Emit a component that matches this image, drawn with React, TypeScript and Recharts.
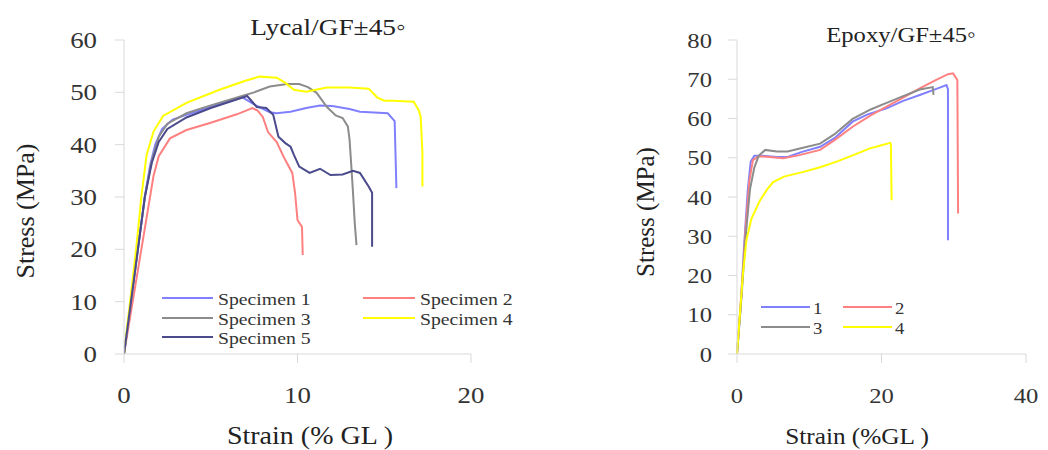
import React from 'react';
import { LineChart, Line, XAxis, YAxis } from 'recharts';

// ---------- Lycal/GF ±45° : [strain %, stress MPa] ----------
const lycalSpecimen1 = [[0,0],[0.4,10],[0.8,20],[1.2,30],[1.5,36],[1.8,40],[2.2,43],[2.8,44.8],[3.6,45.7],[5,47.2],[6.8,49.1],[7.6,47.5],[8.4,46.2],[8.8,46],[9.6,46.3],[10.5,47],[11.3,47.5],[12,47.4],[13,46.8],[13.6,46.3],[15.2,46],[15.6,44.5],[15.7,31.7]];
const lycalSpecimen2 = [[0,0],[0.5,10],[1.0,20],[1.4,28],[1.7,34],[2.0,37.8],[2.65,41.2],[3.6,42.8],[5,44.2],[6.5,45.8],[7.4,47],[7.7,46.5],[8.0,45.3],[8.3,42.4],[8.8,40.5],[9.2,37.7],[9.7,34.6],[9.86,30.8],[10.0,25.6],[10.26,24.3],[10.3,18.9]];
const lycalSpecimen3 = [[0,0],[0.4,10],[0.8,20],[1.2,30],[1.6,37],[2.0,41.5],[2.5,44],[3.6,46],[5,47.5],[6.8,49.3],[7.5,50],[8.4,51.1],[9.4,51.6],[10.1,51.6],[10.6,51],[11.1,49.9],[11.7,47.2],[12.2,45.6],[12.6,45.1],[12.9,43.5],[13.0,41],[13.1,36],[13.2,30.8],[13.3,25],[13.4,20.8]];
const lycalSpecimen4 = [[0,0],[0.35,10],[0.7,20],[1.0,30],[1.3,38],[1.7,42.5],[2.25,45.5],[3.6,48],[5.5,50.5],[7.0,52.2],[7.8,53],[8.8,52.8],[9.3,51.8],[9.8,50.5],[10.5,50.1],[11.2,50.6],[11.7,50.9],[13.0,50.9],[14.1,50.7],[14.6,49],[15.0,48.4],[15.5,48.4],[16.7,48.2],[17.0,46.5],[17.1,45.3],[17.2,38.4],[17.2,32]];
const lycalSpecimen5 = [[0,0],[0.4,10],[0.8,20],[1.2,30],[1.6,36.5],[2.0,40.5],[2.5,43],[3.6,45.2],[5,47],[7.1,49.3],[7.65,47.2],[8.2,47],[8.6,45.7],[8.9,41.5],[9.3,40.3],[9.6,39.6],[9.8,38],[10.1,35.8],[10.7,34.6],[11.3,35.4],[11.9,34.2],[12.6,34.3],[13.2,35],[13.6,34.6],[14.1,32],[14.3,30.8],[14.3,20.5]];

// ---------- Epoxy/GF ±45° ----------
const epoxy1 = [[0,0],[0.5,12],[1.0,28],[1.5,42],[1.9,49],[2.4,50.5],[3.5,50.5],[5.5,50.2],[7,50.2],[9,51.5],[11.5,52.8],[13.5,55],[16,59.2],[18,61],[20.7,62.6],[23,64.5],[25.3,66],[27.5,67.5],[29,68.5],[29.2,67.5],[29.2,29]];
const epoxy2 = [[0,0],[0.6,15],[1.2,32],[1.7,44],[2.2,49.4],[3.0,50.4],[4.5,50.2],[6.4,49.9],[8.5,50.6],[11.5,52],[13.5,54.5],[16,57.9],[18.5,60.8],[20.7,63],[23,65.3],[25.3,67.7],[27.5,69.8],[29.2,71.3],[29.9,71.5],[30.5,69.8],[30.6,35.8]];
const epoxy3 = [[0,0],[0.6,14],[1.2,30],[1.8,42],[2.4,47.5],[3.0,50.5],[3.9,52],[5.5,51.6],[7,51.6],[9,52.5],[11.5,53.6],[13.5,56],[16,59.9],[18.5,62.3],[20.7,64],[23,65.7],[25.3,67.4],[27.1,68],[27.2,66]];
const epoxy4 = [[0,0],[0.4,10],[0.8,20],[1.3,29],[2.0,34.5],[3.2,39.2],[4.2,42],[5.0,43.8],[6.5,45.2],[9.2,46.4],[11.5,47.6],[13.8,49],[16,50.6],[18.4,52.4],[20,53.2],[21.2,53.8],[21.3,53.5],[21.4,39.2]];

const lycalNames = ['Specimen 1', 'Specimen 2', 'Specimen 3', 'Specimen 4', 'Specimen 5'];
const epoxyNames = ['1', '2', '3', '4'];
const lycalXTicks = [0, 10, 20];
const lycalYTicks = [0, 10, 20, 30, 40, 50, 60];
const epoxyXTicks = [0, 20, 40];
const epoxyYTicks = [0, 10, 20, 30, 40, 50, 60, 70, 80];

const COLORS = ['#8080ff', '#ff8080', '#8c8c8c', '#ffff00', '#4a4a8c'];
const FONT = "'Liberation Serif', 'Times New Roman', serif";
const AXIS = '#d9d9d9';

const toPts = (arr: number[][]) => arr.map(([x, y]) => ({ x, y }));
const lycalSeries = [lycalSpecimen1, lycalSpecimen2, lycalSpecimen3, lycalSpecimen4, lycalSpecimen5].map(toPts);
const epoxySeries = [epoxy1, epoxy2, epoxy3, epoxy4].map(toPts);

const mkTick = (size: number, sx: number, anchor: 'middle' | 'end') => (props: any) => {
  const { x, y, payload } = props;
  return (
    <text transform={`translate(${x},${y}) scale(${sx},1)`} textAnchor={anchor} dominantBaseline="central"
      fontFamily={FONT} fontSize={size} fill="#333">{payload.value}</text>
  );
};

const SText = ({ x, y, size, sx = 1, anchor = 'middle', rotate = 0, children, color = '#222' }: any) => (
  <text transform={`translate(${x},${y}) rotate(${rotate}) scale(${sx},1)`} textAnchor={anchor}
    dominantBaseline="central" fontFamily={FONT} fontSize={size} fill={color}>{children}</text>
);

export default function App() {
  return (
    <div style={{ position: 'absolute', left: 0, top: 0, width: 1048, height: 450, background: '#fff', overflow: 'hidden' }}>
      <div style={{ position: 'absolute', left: 0, top: 0 }}>
        <LineChart width={520} height={450} margin={{ top: 40, right: 49, left: 0, bottom: 0 }}>
          <XAxis dataKey="x" type="number" domain={[0, 20]} ticks={lycalXTicks} height={96}
            axisLine={{ stroke: AXIS }} tickLine={{ stroke: AXIS }} tickSize={9} tickMargin={32}
            tick={mkTick(24, 1.12, 'middle')} interval={0} allowDataOverflow />
          <YAxis type="number" domain={[0, 60]} ticks={lycalYTicks} width={124}
            axisLine={{ stroke: AXIS }} tickLine={{ stroke: AXIS }} tickSize={9} tickMargin={18}
            tick={mkTick(24, 1.12, 'end')} interval={0} />
          {lycalSeries.map((d, i) => (
            <Line key={i} data={d} dataKey="y" name={lycalNames[i]} type="linear" stroke={COLORS[i]}
              strokeWidth={2} dot={false} isAnimationActive={false} />
          ))}
        </LineChart>
      </div>
      <div style={{ position: 'absolute', left: 520, top: 0 }}>
        <LineChart width={528} height={450} margin={{ top: 40, right: 22, left: 0, bottom: 0 }}>
          <XAxis dataKey="x" type="number" domain={[0, 40]} ticks={epoxyXTicks} height={96}
            axisLine={{ stroke: AXIS }} tickLine={{ stroke: AXIS }} tickSize={9} tickMargin={32}
            tick={mkTick(22, 1.12, 'middle')} interval={0} />
          <YAxis type="number" domain={[0, 80]} ticks={epoxyYTicks} width={217}
            axisLine={{ stroke: AXIS }} tickLine={{ stroke: AXIS }} tickSize={9} tickMargin={16}
            tick={mkTick(22, 1.12, 'end')} interval={0} />
          {epoxySeries.map((d, i) => (
            <Line key={i} data={d} dataKey="y" name={epoxyNames[i]} type="linear" stroke={COLORS[i]}
              strokeWidth={2} dot={false} isAnimationActive={false} />
          ))}
        </LineChart>
      </div>
      <svg width={1048} height={450} style={{ position: 'absolute', left: 0, top: 0, pointerEvents: 'none' }}>
        {/* Left chart texts */}
        <SText x={328} y={27} size={24} sx={1.14}>Lycal/GF±45◦</SText>
        <SText x={310} y={436} size={25} sx={1.12}>Strain (% GL )</SText>
        <SText x={25} y={211} size={26} rotate={-90}>Stress (MPa)</SText>
        {/* Left legend */}
        {lycalNames.map((n, i) => {
          const col = i === 1 || i === 3 ? 1 : 0;
          const row = i < 2 ? 0 : i < 4 ? 1 : 2;
          const y = [298, 318, 337][row];
          const x0 = col ? 363 : 162;
          const x1 = col ? 415 : 213;
          return (
            <g key={n}>
              <line x1={x0} x2={x1} y1={y} y2={y} stroke={COLORS[i]} strokeWidth={2} />
              <SText x={x1 + 5} y={y + 1} size={17} sx={1.16} anchor="start" color="#333">{n}</SText>
            </g>
          );
        })}
        {/* Right chart texts */}
        <SText x={901} y={34} size={22} sx={1.12}>Epoxy/GF±45◦</SText>
        <SText x={857} y={436} size={23} sx={1.1}>Strain (%GL )</SText>
        <SText x={645} y={212} size={25} rotate={-90}>Stress (MPa)</SText>
        {epoxyNames.map((n, i) => {
          const col = i % 2;
          const row = i < 2 ? 0 : 1;
          const y = [307, 327][row];
          const x0 = col ? 843 : 761;
          const x1 = col ? 892 : 810;
          return (
            <g key={n}>
              <line x1={x0} x2={x1} y1={y} y2={y} stroke={COLORS[i]} strokeWidth={2} />
              <SText x={x1 + 3} y={y + 1} size={17} sx={1.1} anchor="start" color="#333">{n}</SText>
            </g>
          );
        })}
      </svg>
    </div>
  );
}
